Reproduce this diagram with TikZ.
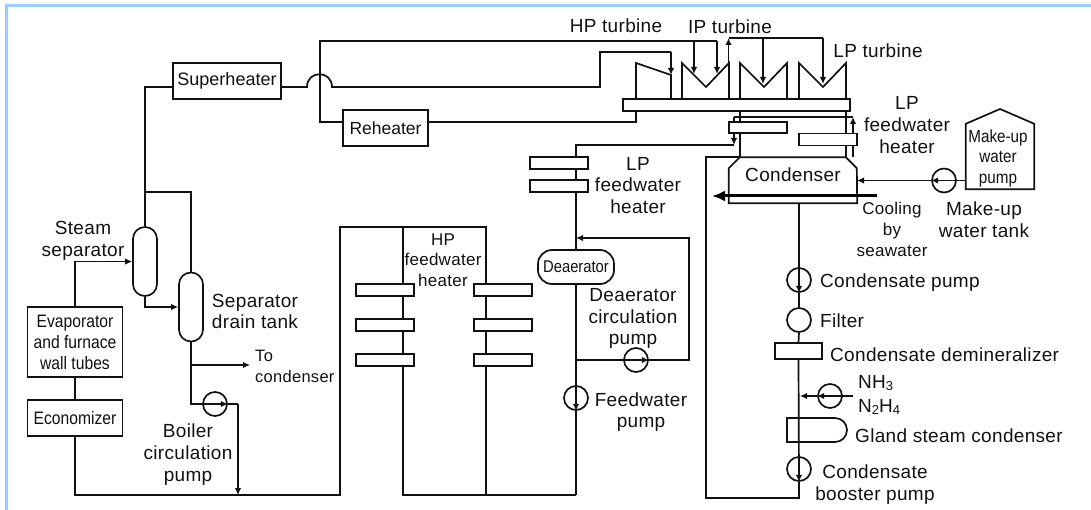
\documentclass[tikz,border=0pt]{standalone}
\usepackage{fontspec}
\setmainfont[LetterSpace=1.7]{Liberation Sans}
\newfontfamily\slimfont[FakeStretch=0.87]{Liberation Sans}
\newfontfamily\boxfont{Liberation Sans}
\usepackage{xcolor}
\definecolor{framecolor}{HTML}{99CCFF}
\definecolor{inkcolor}{HTML}{111111}
\usetikzlibrary{arrows.meta,positioning,calc,backgrounds,shapes.misc}
\tikzset{
  pipe/.style={line width=1.7pt, draw=inkcolor},
  flow/.style={pipe, -{Latex[length=7pt,width=6.5pt]}},
  coolflow/.style={draw=black, line width=3pt, -{Latex[length=13pt,width=11pt]}},
  plantbox/.style={draw=inkcolor, fill=white, line width=1.7pt, inner sep=0pt, align=center, text=inkcolor, font=\fontsize{18}{21}\slimfont},
  heaterbox/.style={plantbox, minimum width=58pt, minimum height=12pt},
  vessel/.style={plantbox, minimum width=24pt, minimum height=69pt, rounded corners=11.9pt},
  pumpnode/.style={draw=inkcolor, line width=1.7pt, circle, minimum size=24pt, inner sep=0pt},
  caption/.style={inner sep=0pt, align=center, text=inkcolor, font=\fontsize{19}{21.7}\selectfont},
  slimcaption/.style={caption, font=\fontsize{17.5}{20.5}\slimfont}
}
\newcommand{\subdigit}[1]{\raisebox{-1.5pt}{\fontsize{13}{13}\selectfont #1}}
\begin{document}
\begin{tikzpicture}[x=1pt,y=-1pt]
\useasboundingbox (0,0) rectangle (1091,510);
\fill[framecolor] (5,4) rectangle (1091,7);
\fill[framecolor] (5,4) rectangle (8,510);
% boiler side
\node[plantbox, minimum width=108pt, minimum height=36pt, font=\fontsize{18}{21}\boxfont] (superheater) at (227,81) {Superheater};
\node[plantbox, minimum width=85pt, minimum height=36pt, font=\fontsize{17.5}{21}\boxfont] (reheater) at (385.5,128) {Reheater};
\node[vessel] (steamsep) at (145,261.5) {};
\node[vessel] (draintank) at (191,307) {};
\node[plantbox, minimum width=95pt, minimum height=70pt] (evaporator) at (75,342) {Evaporator\\and furnace\\wall tubes};
\node[plantbox, minimum width=95pt, minimum height=36pt] (economizer) at (75,418) {Economizer};
\node[pumpnode] (boilerpump) at (215,404) {};
\coordinate (sepjoin) at (145,192);
\coordinate (hopin) at (307,87);
\coordinate (hopout) at (332,87);
\coordinate (mainbend) at (320,41);
\coordinate (drainjoin) at (191,365);
\coordinate (tocondenser) at (250,365);
\coordinate (boilerbend) at (238,404);
\coordinate (boilerjoin) at (238,495);
% HP heaters and deaerator
\foreach \y [count=\i] in {290,325,360} {
  \node[heaterbox] (hpleft\i) at (385,\y) {};
  \node[heaterbox] (hpright\i) at (503,\y) {};
}
\node[plantbox, minimum width=76pt, minimum height=34pt, rounded corners=14pt, font=\fontsize{17}{20}\slimfont] (deaerator) at (576,267) {Deaerator};
\node[pumpnode] (circpump) at (636,360) {};
\node[pumpnode] (feedpump) at (576,398) {};
\node[heaterbox] (lpheatertop) at (559,163) {};
\node[heaterbox] (lpheaterlow) at (559,186) {};
\coordinate (hpbendleft) at (340,227);
\coordinate (hpbendmid) at (403,227);
\coordinate (hpbendright) at (486,227);
\coordinate (hplowmid) at (403,495);
\coordinate (hplowright) at (486,495);
\coordinate (feedlow) at (576,495);
\coordinate (hplowleft) at (340,495);
\coordinate (circjoin) at (576,360);
\coordinate (circbend) at (689,360);
\coordinate (circtop) at (689,238);
\coordinate (circback) at (576,238);
\coordinate (lpcorner) at (576,145);
% turbines
\node[plantbox, minimum width=227pt, minimum height=12pt] (shaftbar) at (736.5,105) {};
\foreach \x in {682,740,799} {
  \draw[pipe] (\x,99) -- (\x,63) -- (\x+24,87) -- (\x+47,63) -- (\x+47,99);
}
\draw[pipe] (636,99) -- (636,63) -- (671,75) -- (671,99);
\coordinate (hpinleft) at (600,87);
\coordinate (hpintop) at (600,52);
\coordinate (hpinright) at (671,52);
\coordinate (hpinend) at (671,75);
\coordinate (ipinmid) at (694,41);
\coordinate (ipinend) at (717,41);
\coordinate (ipoutlow) at (728.5,99);
\coordinate (ipouttop) at (728.5,38);
\coordinate (lpinmid) at (763,38);
\coordinate (lpinend) at (823,38);
\coordinate (hpreturn) at (636,122);
% condenser side
\node[minimum width=128pt, minimum height=46pt, inner sep=0pt] (condenser) at (793,180) {};
\node[caption] (condensertext) at (793,175) {Condenser};
\draw[pipe] (condenser.south west) -- ++(0,-35) -- ++(11,-11) -- ++(106,0) -- ++(11,11) -- (condenser.south east) -- cycle;
\node[plantbox, minimum width=58pt, minimum height=11pt] (lpheaterone) at (758,127.5) {};
\node[heaterbox] (lpheatertwo) at (828,139.5) {};
\node[pumpnode] (condpump) at (799,280) {};
\node[pumpnode, fill=white] (condfilter) at (799,320) {};
\node[plantbox, minimum width=47pt, minimum height=16pt] (demineralizer) at (798.5,351) {};
\node[pumpnode] (dosepump) at (830,396) {};
\node[draw=inkcolor, line width=1.7pt, rounded rectangle, rounded rectangle left arc=none, minimum width=60pt, minimum height=24pt, inner sep=0pt] (glandcondenser) at (817,430) {};
\node[pumpnode] (boosterpump) at (799,469) {};
\node[pumpnode] (makeuppump) at (944,180.5) {};
\node[inner sep=0pt, minimum width=68pt, minimum height=65pt] (makeupbox) at (1000,156.5) {};
\node[slimcaption] (makeuptext) at (998,158) {Make-up\\water\\pump};
\draw[pipe] (makeupbox.south west) -- (makeupbox.north west) -- (1000,109) -- (makeupbox.north east) -- (makeupbox.south east) -- cycle;
\coordinate (condout) at (799,203);
\coordinate (loopleft) at (706,498);
\coordinate (looplow) at (799,498);
\coordinate (looptop) at (706,157);
\coordinate (condtopleft) at (740,157);
\coordinate (condtopright) at (846,157);
\coordinate (returnup) at (853,157);
\coordinate (returntop) at (853,117);
\coordinate (returnleft) at (734,117);
\coordinate (returndown) at (734,145);
\coordinate (dosein) at (853,396);
\coordinate (doseout) at (800,396);
\coordinate (makeupin) at (857,180.5);
\coordinate (coolin) at (877,196);
\coordinate (coolout) at (712,196);
\begin{scope}[on background layer]
\draw[pipe] ([yshift=-6pt]superheater.west) -| (steamsep.north);
\draw[pipe] (sepjoin) -| (draintank.north);
\draw[flow] (evaporator.north) |- (steamsep.west);
\draw[flow] (steamsep.south) |- (draintank.west);
\draw[pipe] (evaporator.south) -- (economizer.north);
\draw[flow] (draintank.south) |- (boilerpump.east);
\draw[flow] (drainjoin) -- (tocondenser);
\draw[pipe] (boilerpump.east) -- (boilerbend);
\draw[flow] (boilerbend) -- (boilerjoin);
\draw[pipe] (economizer.south) |- (hplowleft) -- (hpbendleft) -- (hpbendright) -- (hplowright);
\draw[pipe] (hpbendmid) -- (hplowmid) -- (feedlow);
\draw[pipe] ([yshift=-6pt]superheater.east) -- (hopin) .. controls (307,70) and (332,70) .. (hopout) -- (hpinleft) -- (hpintop) -- (hpinright);
\draw[flow] (hpinright) -- (hpinend);
\draw[pipe] ([yshift=6pt]reheater.west) -| (mainbend) -- (ipinend);
\draw[flow] (ipinmid) -- ++(0,33);
\draw[flow] (ipinend) -- ++(0,33);
\draw[pipe] ([yshift=6pt]reheater.east) -- (hpreturn) -- (hpreturn |- shaftbar.south);
\draw[flow] (ipoutlow) -- (ipouttop);
\draw[pipe] (ipouttop) -- (lpinend);
\draw[flow] (lpinmid) -- ++(0,46);
\draw[flow] (lpinend) -- ++(0,46);
\foreach \p in {condtopleft,condtopright} {
  \draw[pipe] (\p) -- (\p |- shaftbar.south);
}
\draw[flow] (returnup) -- (returntop);
\draw[pipe] (returntop) -- (returnleft);
\draw[flow] (returnleft) -- (returndown);
\draw[pipe] (returndown) -- (lpcorner) -- (deaerator.north);
\draw[flow] (circpump.east) -| (circtop) -- (circback);
\draw[flow] (circjoin) -- (circpump.east);
\draw[flow] (deaerator.south) -- (feedpump.south);
\draw[pipe] (feedpump.south) -- (feedlow);
\draw[flow] (condout) -- (condpump.south);
\draw[pipe] (condpump.south) -- (condfilter.north);
\draw[pipe] (condfilter.south) -- (demineralizer.north);
\draw[flow] (demineralizer.south) -- (boosterpump.south);
\draw[pipe] (boosterpump.south) -- (looplow) -- (loopleft) -- (looptop) -- (condtopleft);
\draw[flow] (dosein) -- (dosepump.west);
\draw[flow] (dosepump.west) -- (doseout);
\draw[flow] (makeupbox.west |- makeuppump.east) -- (makeuppump.west);
\draw[flow] (makeuppump.west) -- (makeupin);
\end{scope}
\draw[coolflow] (coolin) -- (coolout);
% labels
\node[caption] (hpturbinetext) at (616,26) {HP turbine};
\node[caption] (ipturbinetext) at (730,27) {IP turbine};
\node[caption] (lpturbinetext) at (878,51) {LP turbine};
\node[caption] (lpheaterright) at (907,125) {LP\\feedwater\\heater};
\node[caption] (lpheaterleft) at (638,185.5) {LP\\feedwater\\heater};
\node[caption, font=\fontsize{17}{21}\selectfont] (coolingtext) at (892,229.5) {Cooling\\by\\seawater};
\node[caption] (makeuptank) at (984,220) {Make-up\\water tank};
\node[caption] (steamseptext) at (83,240.5) {Steam\\separator};
\node[caption] (draintanktext) at (255,311.5) {Separator\\drain tank};
\node[caption, font=\fontsize{16.5}{21}\selectfont, align=left, anchor=north west] (tocondtext) at (255,350) {To\\condenser};
\node[caption] (boilerpumptext) at (188,454.5) {Boiler\\circulation\\pump};
\node[caption, font=\fontsize{17}{20.5}\selectfont] (hpheatertext) at (443,260) {HP\\feedwater\\heater};
\node[caption] (circpumptext) at (633,318.5) {Deaerator\\circulation\\pump};
\node[caption] (feedpumptext) at (641,412) {Feedwater\\pump};
\node[caption, anchor=west] (condpumptext) at (820,283) {Condensate pump};
\node[caption, anchor=west] (filtertext) at (820,321) {Filter};
\node[caption, anchor=west] (demintext) at (830,355) {Condensate demineralizer};
\node[caption, anchor=west] (nhtext) at (858,383) {NH\subdigit{3}};
\node[caption, anchor=west] (nntext) at (858,407) {N\subdigit{2}H\subdigit{4}};
\node[caption, anchor=west] (glandtext) at (855,436) {Gland steam condenser};
\node[caption] (boostertext) at (875,484.5) {Condensate\\booster pump};
\end{tikzpicture}
\end{document}
